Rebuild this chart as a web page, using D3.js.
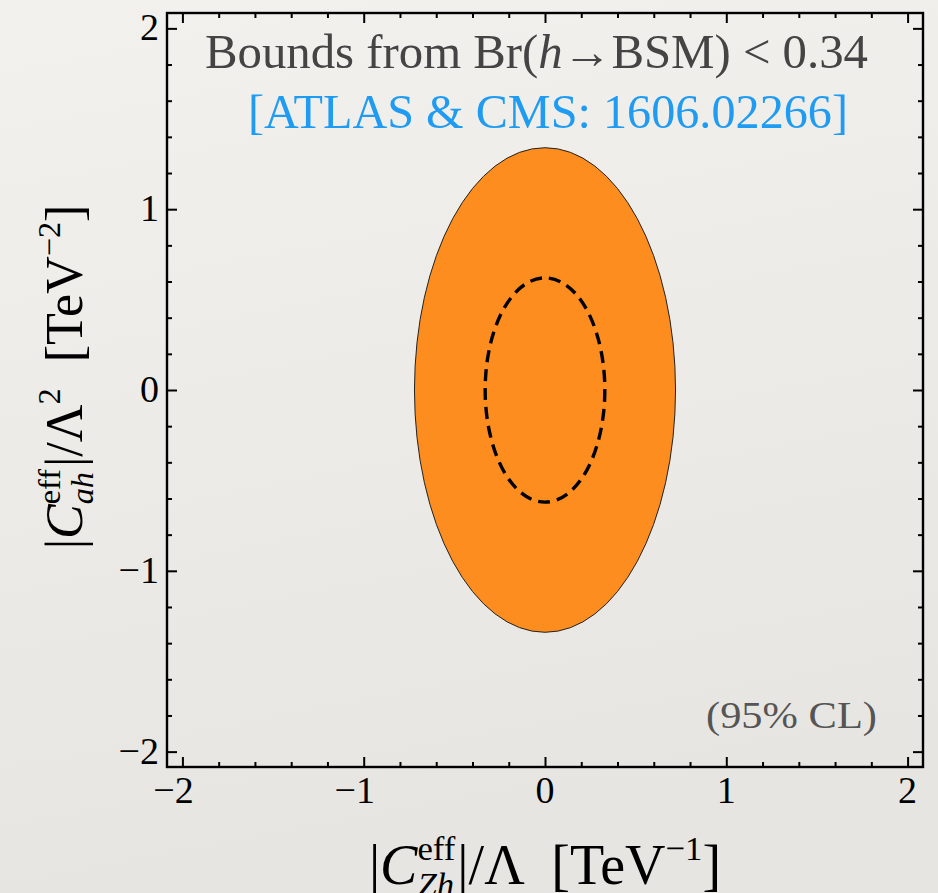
<!DOCTYPE html>
<html>
<head>
<meta charset="utf-8">
<script src="https://cdn.jsdelivr.net/npm/d3@7"></script>
<style>
  html, body { margin: 0; padding: 0; }
  body { width: 938px; height: 893px; overflow: hidden; }
  svg text { font-family: "Liberation Serif", "Times New Roman", serif; }
</style>
</head>
<body>
<svg id="chart" width="938" height="893"></svg>
<script>
// axis data
var xDomain = [-2.085, 2.085],
    yDomain = [-2.085, 2.085];
var majorTicks = [-2, -1, 0, 1, 2];
var minorTicks = [-1.8, -1.6, -1.4, -1.2, -0.8, -0.6, -0.4, -0.2,
                  0.2, 0.4, 0.6, 0.8, 1.2, 1.4, 1.6, 1.8];

// allowed regions (centre and semi-axes, TeV units)
var ellipseCenter = [0, 0];
var outerAxes = [0.72, 1.34];   // solid orange region
var innerAxes = [0.33, 0.62];   // dashed contour

var sourceText = "[ATLAS & CMS: 1606.02266]",
    clText = "(95% CL)";

var svg = d3.select("#chart"),
    margin = {top: 13, right: 15, bottom: 126, left: 167},
    width = +svg.attr("width") - margin.left - margin.right,
    height = +svg.attr("height") - margin.top - margin.bottom;

// paper background
var defs = svg.append("defs");
var grad = defs.append("linearGradient")
    .attr("id", "paper")
    .attr("x1", 0).attr("y1", 0).attr("x2", 0.2).attr("y2", 1);
grad.append("stop").attr("offset", "0%").attr("stop-color", "#f3f1ed");
grad.append("stop").attr("offset", "100%").attr("stop-color", "#e7e5e1");
svg.append("rect")
    .attr("width", 938).attr("height", 893)
    .attr("fill", "url(#paper)");

var x = d3.scaleLinear().domain(xDomain).range([0, width]),
    y = d3.scaleLinear().domain(yDomain).range([height, 0]);

var g = svg.append("g")
    .attr("transform", "translate(" + margin.left + "," + margin.top + ")");

// outer region
g.append("ellipse")
    .attr("cx", x(ellipseCenter[0]))
    .attr("cy", y(ellipseCenter[1]))
    .attr("rx", x(outerAxes[0]) - x(0))
    .attr("ry", y(0) - y(outerAxes[1]))
    .attr("fill", "#fc8d1e")
    .attr("stroke", "#222")
    .attr("stroke-width", 1);

// inner dashed contour
g.append("ellipse")
    .attr("cx", x(ellipseCenter[0]))
    .attr("cy", y(ellipseCenter[1]))
    .attr("rx", x(innerAxes[0]) - x(0))
    .attr("ry", y(0) - y(innerAxes[1]))
    .attr("fill", "none")
    .attr("stroke", "#000")
    .attr("stroke-width", 3.4)
    .attr("stroke-dasharray", "12,7");

// frame ticks, inward on all four sides
function ticks(axis, size, vals) {
  axis.tickValues(vals).tickSize(-size).tickFormat("");
  return axis;
}
var sides = [
  {gen: d3.axisBottom, sc: x, tr: "translate(0," + height + ")"},
  {gen: d3.axisTop, sc: x, tr: "translate(0,0)"},
  {gen: d3.axisLeft, sc: y, tr: "translate(0,0)"},
  {gen: d3.axisRight, sc: y, tr: "translate(" + width + ",0)"}
];
sides.forEach(function(s) {
  g.append("g").attr("class", "minor").attr("transform", s.tr)
      .call(ticks(s.gen(s.sc), 5, minorTicks));
  g.append("g").attr("class", "major").attr("transform", s.tr)
      .call(ticks(s.gen(s.sc), 10, majorTicks));
});
g.selectAll(".minor path, .major path").remove();
g.selectAll(".tick line").attr("stroke", "#000").attr("stroke-width", 2);

g.append("rect")
    .attr("width", width).attr("height", height)
    .attr("fill", "none").attr("stroke", "#000").attr("stroke-width", 2.4);

function fmt(d) { return d < 0 ? "\u2212" + (-d) : "" + d; }

// tick labels
g.selectAll(".xlab")
    .data(majorTicks)
  .enter().append("text")
    .attr("class", "xlab")
    .attr("x", function(d) { return x(d) + (d < 0 ? -9 : 0); })
    .attr("y", height + 36)
    .attr("text-anchor", "middle")
    .attr("font-size", 38)
    .text(fmt);

g.selectAll(".ylab")
    .data(majorTicks)
  .enter().append("text")
    .attr("class", "ylab")
    .attr("x", -8)
    .attr("y", function(d) { return y(d) + 12; })
    .attr("text-anchor", "end")
    .attr("font-size", 38)
    .text(fmt);

// annotations
g.append("text")
    .attr("x", 205 - margin.left).attr("y", 68 - margin.top)
    .attr("font-size", 48).attr("fill", "#444")
    .attr("textLength", 663).attr("lengthAdjust", "spacingAndGlyphs")
    .call(function(t) {
      t.append("tspan").text("Bounds from Br(");
      t.append("tspan").attr("font-style", "italic").text("h");
      t.append("tspan").text("\u2192BSM) < 0.34");
    });

g.append("text")
    .attr("x", 248 - margin.left).attr("y", 128 - margin.top)
    .attr("font-size", 48).attr("fill", "#1f9cf2")
    .attr("textLength", 600).attr("lengthAdjust", "spacingAndGlyphs")
    .text(sourceText);

g.append("text")
    .attr("x", 706 - margin.left).attr("y", 728 - margin.top)
    .attr("font-size", 38).attr("fill", "#555")
    .attr("textLength", 171).attr("lengthAdjust", "spacingAndGlyphs")
    .text(clText);

// axis titles built from pieces (super/subscripts stacked)
function richLabel(parent, parts, size) {
  var lg = parent.append("g"), cx = 0;
  parts.forEach(function(p) {
    if (p.stack) {
      var a = lg.append("text").attr("x", cx).attr("y", -0.42 * size)
          .attr("font-size", 0.62 * size).text(p.stack[0]);
      var b = lg.append("text").attr("x", cx).attr("y", 0.22 * size)
          .attr("font-size", 0.62 * size).attr("font-style", "italic").text(p.stack[1]);
      cx += Math.max(a.node().getComputedTextLength(), b.node().getComputedTextLength()) + 2;
    } else {
      var t = lg.append("text").attr("x", cx)
          .attr("y", p.sup ? -0.42 * size : 0)
          .attr("font-size", p.sup ? 0.62 * size : size)
          .attr("font-style", p.it ? "italic" : null)
          .attr("xml:space", "preserve")
          .text(p.t);
      cx += t.node().getComputedTextLength();
    }
  });
  lg.selectAll("text").attr("dx", -cx / 2);
  return lg;
}

var xl = richLabel(svg, [
  {t: "|"}, {t: "C", it: true}, {stack: ["eff", "Zh"]},
  {t: "|/\u039b  [TeV"}, {t: "\u22121", sup: true}, {t: "]"}
], 56);
xl.attr("transform", "translate(545,884)");

var yl = richLabel(svg, [
  {t: "|"}, {t: "C", it: true}, {stack: ["eff", "ah"]},
  {t: "|/\u039b"}, {t: "2", sup: true}, {t: "  [TeV"}, {t: "\u22122", sup: true}, {t: "]"}
], 52);
yl.attr("transform", "translate(82,377) rotate(-90)");
</script>
</body>
</html>
